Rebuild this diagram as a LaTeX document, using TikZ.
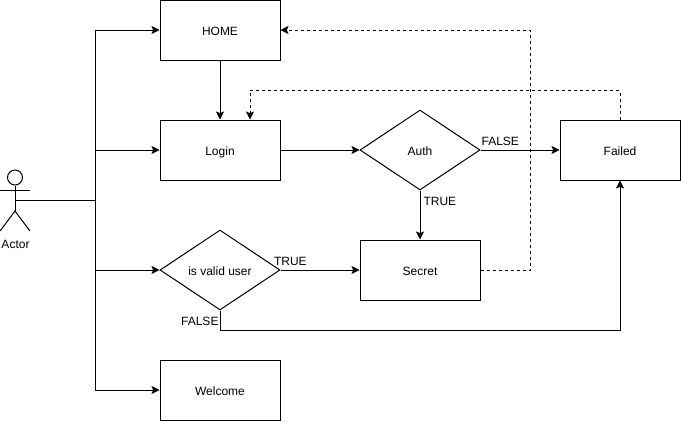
\documentclass[tikz,border=0pt]{standalone}
\usepackage{fontspec}
\setmainfont{Liberation Sans}
\usetikzlibrary{shapes.geometric, arrows.meta}
\tikzstyle{every node}=[font=\fontsize{9}{11}\selectfont]
\tikzstyle{textline} = [text height=8.2pt, text depth=0pt]
\tikzstyle{process} = [rectangle, textline, minimum width=90pt, minimum height=45pt, text centered, draw=black, line width=.75pt]
\tikzstyle{decision} = [diamond, textline, aspect=1.5, inner sep=0pt, minimum width=90pt, minimum height=60pt, text centered, draw=black, line width=.75pt]
\tikzstyle{arrow} = [line width=.75pt,->,>={Stealth[length=6pt,width=6pt,inset=1.2pt]}]
\tikzstyle{dasharrow} = [arrow, dash pattern=on 2.25pt off 2.25pt]
\tikzstyle{actorline} = [line width=.75pt]
\tikzstyle{branch} = [textline, inner xsep=1.5pt, inner ysep=3pt]

\begin{document}
\begin{tikzpicture}[x=.75pt, y=.75pt, node distance=90pt]
	\useasboundingbox (0,0) rectangle (681,-421);

	\node (home) [process] at (220,-30) {HOME};
	\node (login) [process, below of=home] {Login};
		\draw [arrow] (home) -- (login);
	\node (auth) [decision, right of=login, xshift=60pt] {Auth};
		\draw [arrow] (login) -- (auth);
	\node (failed) [process, right of=auth, xshift=60pt] {Failed};
		\draw [arrow] (auth) -- node[branch, anchor=south, pos=.25] {FALSE} (failed);
	\node (secret) [process, below of=auth] {Secret};
		\draw [arrow] (auth) -- node[branch, anchor=west, pos=.2, xshift=.75pt] {TRUE} (secret);
	\node (valid) [decision, below of=login] {is valid user};
		\draw [arrow] (valid) -- node[branch, anchor=south, pos=.125] {TRUE} (secret);
	\node (welcome) [process, below of=valid] {Welcome};

	% actor
	\node (actorhead) [circle, draw=black, line width=.75pt, minimum size=11.25pt, inner sep=0pt] at (15,-177.5) {};
	\coordinate (armleft) at (0,-190);
	\coordinate (armright) at (30,-190);
	\coordinate (actorhip) at (15,-211);
	\coordinate (legleft) at (0,-231);
	\coordinate (legright) at (30,-231);
	\coordinate (actorhand) at (15,-200);
	\coordinate (trunk) at (95,-200);
	\node (actorlabel) [textline] at (15.5,-243) {Actor};
		\draw [actorline] (actorhead) -- (actorhip);
		\draw [actorline] (armleft) -- (armright);
		\draw [actorline] (legleft) -- (actorhip) -- (legright);

		\draw [actorline] (actorhand) -- (trunk);
		\draw [arrow] (trunk) |- (home);
		\draw [arrow] (trunk) |- (login);
		\draw [arrow] (trunk) |- (valid);
		\draw [arrow] (trunk) |- (welcome);

	% return paths
	\coordinate (falseturn) at ([yshift=-45pt]valid);
		\draw [arrow] (valid.south) -- node[branch, anchor=east, xshift=.75pt] {FALSE} (falseturn) -| (failed.south);
	\coordinate (secretturn) at ([xshift=82.5pt]secret);
		\draw [dasharrow] (secret) -- (secretturn) |- (home);
	\coordinate (loginport) at ([xshift=22.5pt]login.north);
	\coordinate (retryturn) at ([yshift=22pt]loginport);
		\draw [dasharrow] (failed.north) |- (retryturn) -- (loginport);

\end{tikzpicture}
\end{document}
